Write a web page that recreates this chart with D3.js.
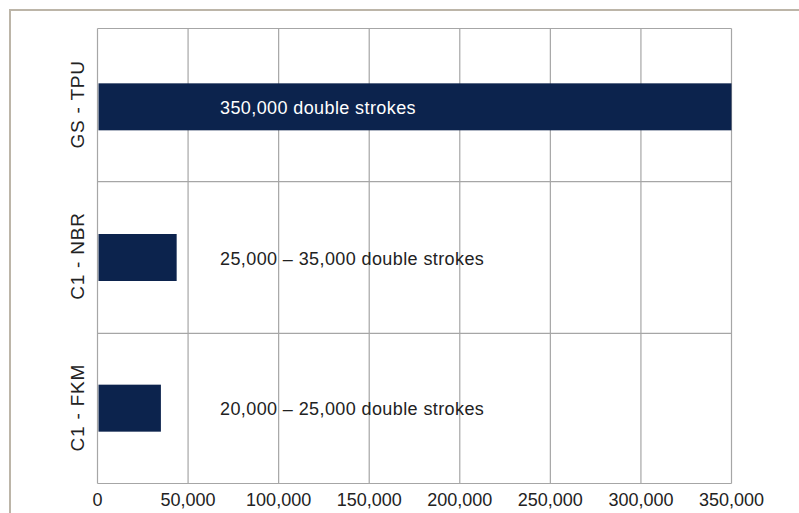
<!DOCTYPE html>
<html>
<head>
<meta charset="utf-8">
<script src="https://cdn.jsdelivr.net/npm/d3@7"></script>
<style>
  body { margin: 0; background: #fff; }
  svg { display: block; font-family: "Liberation Sans", Arial, sans-serif; }
</style>
</head>
<body>
<script>
// data
let categories = ['GS - TPU', 'C1 - NBR', 'C1 - FKM'];
let values = [350000, 43700, 35000];
let labels = ['350,000 double strokes', '25,000 \u2013 35,000 double strokes', '20,000 \u2013 25,000 double strokes'];
let ticks = [0, 50000, 100000, 150000, 200000, 250000, 300000, 350000];

let width = 799;
let height = 513;

let svg = d3.select('body')
    .append('svg')
    .attr('width', width)
    .attr('height', height);

// outer frame (left + top only)
svg.append('path')
    .attr('d', 'M10,513 V10 H799')
    .attr('fill', 'none')
    .attr('stroke', '#bcb5a8')
    .attr('stroke-width', 2);

let plot = {left: 97.5, top: 28.5, right: 731.5, bottom: 483.5};

let x = d3.scaleLinear()
    .domain([0, 350000])
    .range([plot.left, plot.right]);

let y = d3.scaleBand()
    .domain(categories)
    .range([plot.top, plot.bottom]);

let barH = 47;

// vertical gridlines
svg.selectAll('line.vgrid')
    .data(ticks)
    .enter()
    .append('line')
    .attr('class', 'vgrid')
    .attr('x1', d => x(d))
    .attr('x2', d => x(d))
    .attr('y1', plot.top)
    .attr('y2', plot.bottom)
    .attr('stroke', '#a6a6a6')
    .attr('stroke-width', 1.2);

// horizontal row separators
svg.selectAll('line.hgrid')
    .data(categories)
    .enter()
    .append('line')
    .attr('class', 'hgrid')
    .attr('x1', plot.left)
    .attr('x2', plot.right)
    .attr('y1', d => y(d) + (d === categories[0] ? 0 : 1.5))
    .attr('y2', d => y(d) + (d === categories[0] ? 0 : 1.5))
    .attr('stroke', '#a6a6a6')
    .attr('stroke-width', 1.2);

svg.append('line')
    .attr('x1', plot.left).attr('x2', plot.right)
    .attr('y1', plot.bottom).attr('y2', plot.bottom)
    .attr('stroke', '#a6a6a6')
    .attr('stroke-width', 1.2);

// bars
svg.selectAll('rect.bar')
    .data(values)
    .enter()
    .append('rect')
    .attr('class', 'bar')
    .attr('fill', '#0c234d')
    .attr('x', x(0) + 1)
    .attr('y', (d, i) => y(categories[i]) + y.bandwidth() / 2 - barH / 2 + 2.5 - i)
    .attr('width', d => x(d) - x(0) - 1)
    .attr('height', barH);

// bar labels
svg.selectAll('text.lbl')
    .data(labels)
    .enter()
    .append('text')
    .attr('class', 'lbl')
    .attr('x', 220)
    .attr('y', (d, i) => y(categories[i]) + y.bandwidth() / 2 + 3.5 - i)
    .attr('dy', '0.35em')
    .attr('font-size', '18px')
    .attr('letter-spacing', '0.4px')
    .attr('fill', (d, i) => i === 0 ? '#ffffff' : '#222222')
    .text(d => d);

// category labels (rotated)
svg.selectAll('text.cat')
    .data(categories)
    .enter()
    .append('text')
    .attr('class', 'cat')
    .attr('text-anchor', 'middle')
    .attr('font-size', '19px')
    .attr('letter-spacing', '0.8px')
    .attr('fill', '#222')
    .attr('transform', d => 'translate(84,' + (y(d) + y.bandwidth() / 2) + ') rotate(-90)')
    .text(d => d);

// x tick labels
svg.selectAll('text.tick')
    .data(ticks)
    .enter()
    .append('text')
    .attr('class', 'tick')
    .attr('text-anchor', 'middle')
    .attr('font-size', '18px')
    .attr('fill', '#222')
    .attr('x', d => x(d))
    .attr('y', 506)
    .text(d => d3.format(',')(d));
</script>
</body>
</html>
